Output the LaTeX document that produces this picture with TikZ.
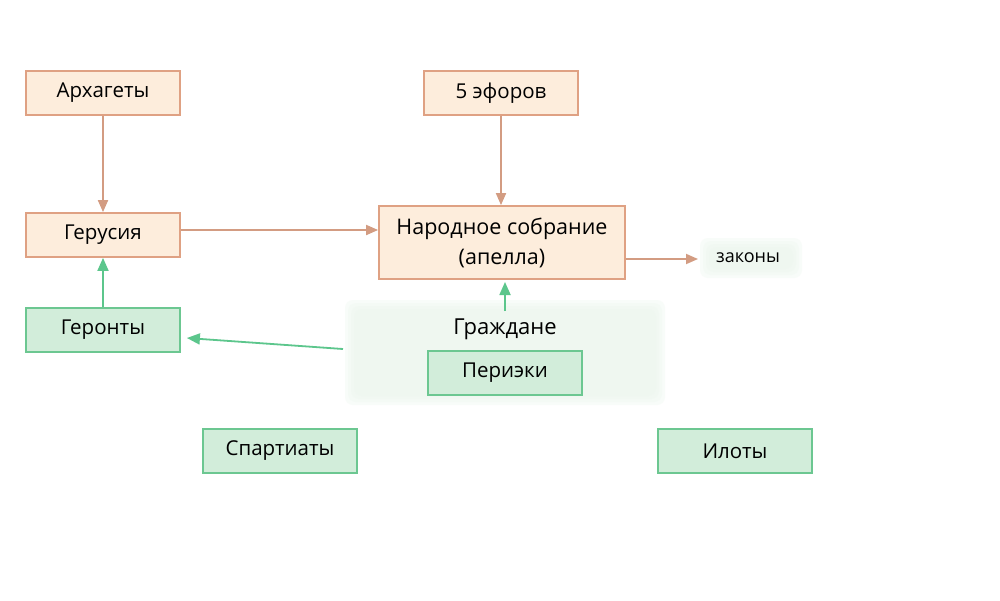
\documentclass[tikz,border=0pt]{standalone}
\usepackage{fontspec}
\setmainfont{Open Sans}
\usetikzlibrary{arrows.meta}
\definecolor{ofill}{HTML}{FDEDDC}
\definecolor{odraw}{HTML}{DFA183}
\definecolor{gfill}{HTML}{D2EDDA}
\definecolor{gdraw}{HTML}{6CC791}
\definecolor{oarr}{HTML}{D39C82}
\definecolor{garr}{HTML}{5CC68C}
\definecolor{bgreen}{HTML}{EDF7EF}
\tikzset{
  obox/.style={draw=odraw, fill=ofill, line width=1.8pt, minimum width=154pt, minimum height=44pt, inner sep=0pt, font=\fontsize{20.5}{25}\selectfont},
  gbox/.style={draw=gdraw, fill=gfill, line width=1.8pt, minimum width=154pt, minimum height=44pt, inner sep=0pt, font=\fontsize{20.5}{25}\selectfont},
  oarrow/.style={draw=oarr, line width=1.8pt, -{Triangle[length=12pt,width=10pt]}},
  garrow/.style={draw=garr, line width=1.8pt, -{Triangle[length=13pt,width=11pt]}},
  glow/.style={fill=bgreen, opacity=0.35, rounded corners=8pt},
}
\begin{document}
\begin{tikzpicture}[x=1pt,y=-1pt]
\useasboundingbox (0,0) rectangle (1000,600);
\fill[white] (0,0) rectangle (1000,600);
% soft backgrounds
\foreach \d in {0,3,6,9} {
  \fill[glow] (345+\d,300+\d) rectangle (665-\d,405-\d);
  \fill[glow] (700+\d,238+\d) rectangle (802-\d,278-\d);
}
% nodes
\node[obox] (arch) at (103,93) {Архагеты};
\node[obox] (efor) at (501,93) {5 эфоров};
\node[obox] (ger) at (103,235) {Герусия};
\node[obox, minimum width=246pt, minimum height=73pt, align=center, font=\fontsize{21.5}{30}\selectfont] (nar) at (502,242.5) {Народное собрание\\(апелла)};
\node[font=\fontsize{18}{22}\selectfont, inner sep=0pt] (zak) at (748,258) {законы};
\coordinate (zakL) at (698,259);
\node[gbox] (geron) at (103,330) {Геронты};
\node[font=\fontsize{22}{26}\selectfont] (grazh) at (505,329) {Граждане};
\node[gbox] (per) at (505,373) {Периэки};
\node[gbox] (spar) at (280,451) {Спартиаты};
\node[gbox] (ilot) at (735,451) {Илоты};
\coordinate (grazhL) at (343,349);
\coordinate (grazhT) at (505,311);
% connectors
\draw[oarrow] (arch) -- (ger);
\draw[oarrow] (efor.south) -- (efor.south |- nar.north);
\draw[oarrow] (ger.east |- 0,230) -- (nar.west |- 0,230);
\draw[oarrow] (nar.east |- 0,259) -- (zakL);
\draw[garrow] (grazhT) -- (grazhT |- 0,282);
\draw[garrow] (geron) -- (ger);
\draw[garrow] (grazhL) -- ([yshift=-8pt,xshift=6pt]geron.east);
\end{tikzpicture}
\end{document}
